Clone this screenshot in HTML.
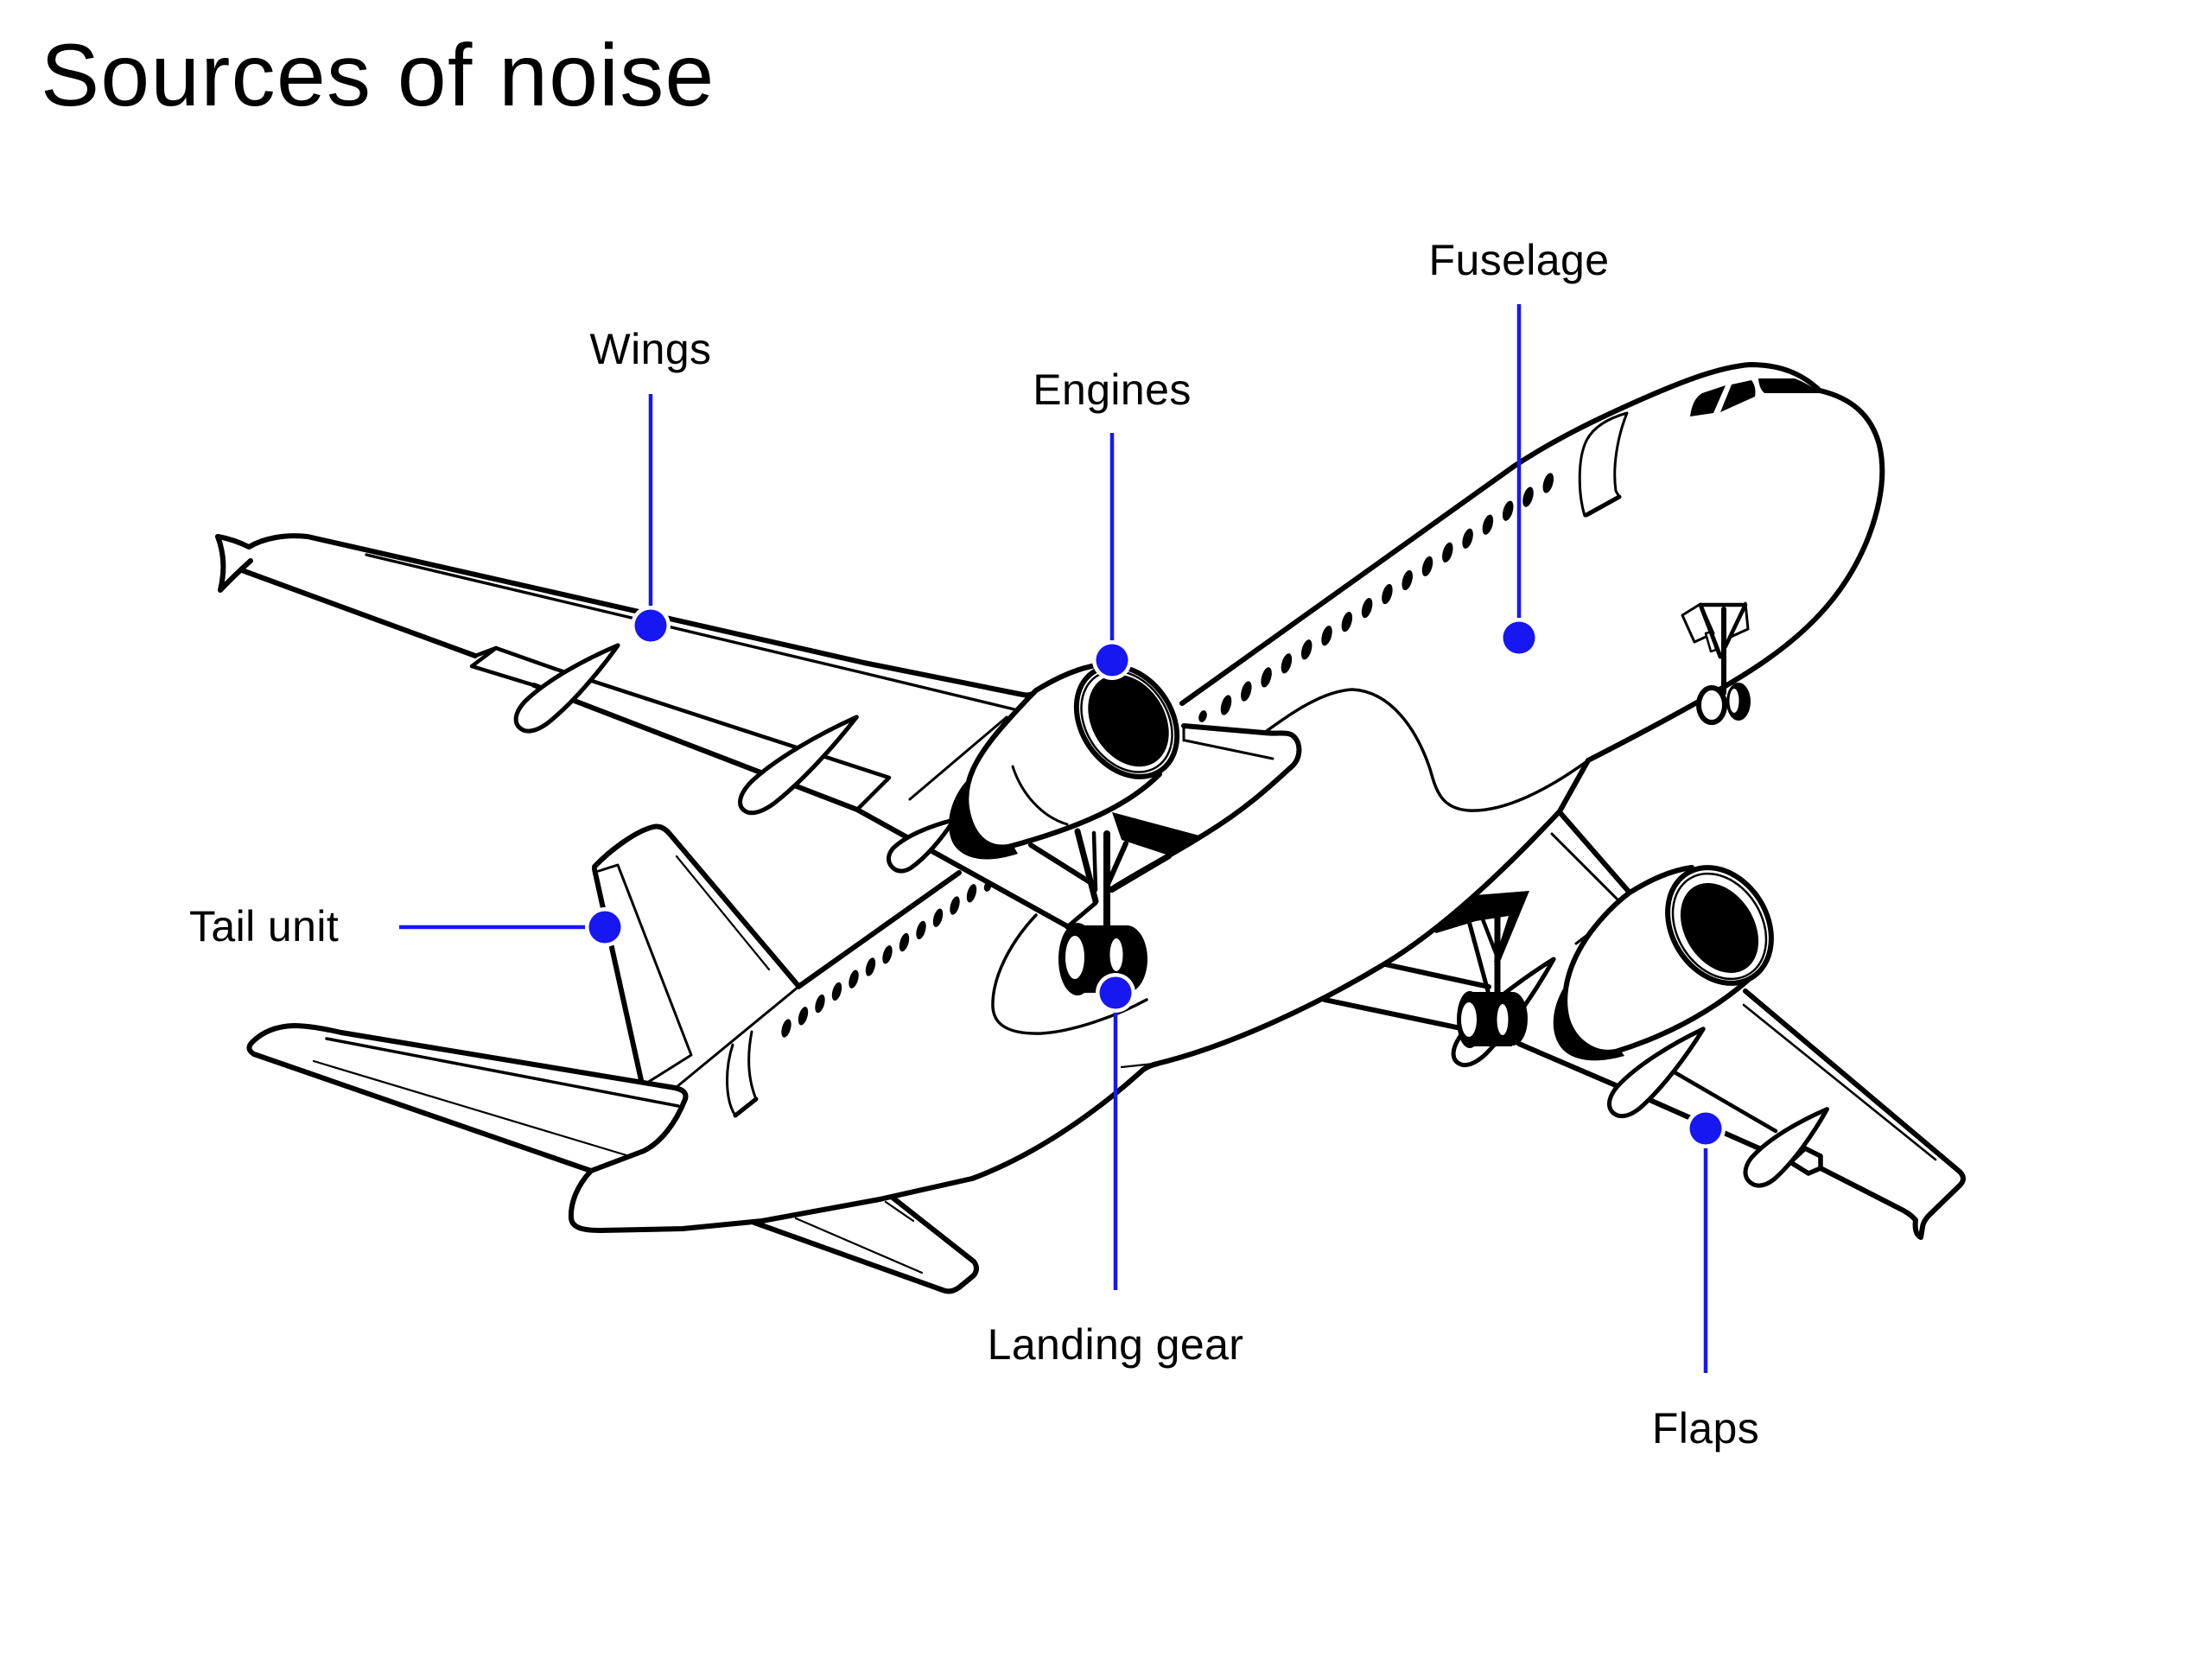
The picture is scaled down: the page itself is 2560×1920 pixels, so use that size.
<!DOCTYPE html>
<html>
<head>
<meta charset="utf-8">
<style>
html,body{margin:0;padding:0;background:#fff;}
svg{display:block;}
.k{fill:none;stroke:#000;stroke-width:6;stroke-linecap:round;stroke-linejoin:round;}
.m{fill:none;stroke:#000;stroke-width:4.5;stroke-linecap:round;stroke-linejoin:round;}
.t{fill:none;stroke:#000;stroke-width:3;stroke-linecap:round;stroke-linejoin:round;}
.h{fill:none;stroke:#000;stroke-width:2.2;stroke-linecap:round;stroke-linejoin:round;}
.w{fill:#fff;stroke:#000;stroke-width:5.5;stroke-linejoin:round;}
.wt{fill:#fff;stroke:#000;stroke-width:3;stroke-linejoin:round;}
.cn{fill:#fff;stroke:#000;stroke-width:5;stroke-linejoin:round;vector-effect:non-scaling-stroke;}
.b{fill:#000;stroke:none;}
.bl{fill:none;stroke:#1717f2;stroke-width:4.5;}
.lbl{font-family:"Liberation Sans",Arial,sans-serif;font-size:50px;fill:#000;letter-spacing:0.4px;}
</style>
</head>
<body>
<svg width="2560" height="1920" viewBox="0 0 2560 1920" xmlns="http://www.w3.org/2000/svg">
<rect x="0" y="0" width="2560" height="1920" fill="#fff"/>

<!-- Title -->
<text x="47" y="122" font-family="Liberation Sans, Arial, sans-serif" font-size="102" letter-spacing="1.3" fill="#000">Sources of noise</text>

<!-- ============ LEFT (far) WING ============ -->
<path class="k" d="M 252 621 Q 270 624 288 633 C 305 623 330 618 356 621 L 1000 767 L 1184 804 Q 1194 806 1200 799"/>
<path class="k" d="M 252 621 Q 263 650 255 683 Q 270 667 290 649"/>
<path class="k" d="M 280 660 L 550 759"/>
<path class="m" d="M 550 759 L 574 750 L 642 774"/>
<path class="m" d="M 574 750 L 546 771 L 618 793"/>
<path class="m" d="M 642 774 L 1029 900 L 992 937"/>
<path class="k" d="M 618 793 L 992 937 L 1237 1073"/>
<path class="t" d="M 424 642 L 1000 779 L 1174 821" style="stroke-width:3.4"/>
<path class="t" d="M 1053 925 L 1165 830"/>
<!-- canoes left wing -->
<path class="cn" d="M 2 6 C -4 -6 4 -16 24 -19 C 60 -22 110 -12 150 0 C 112 10 64 18 28 17 C 14 16 6 12 2 6 Z" transform="translate(601 842) rotate(-39.8) scale(0.99 1)"/>
<path class="cn" d="M 2 6 C -4 -6 4 -16 24 -19 C 60 -22 110 -12 150 0 C 112 10 64 18 28 17 C 14 16 6 12 2 6 Z" transform="translate(860 937) rotate(-39.2) scale(1.13 1)"/>
<path class="cn" d="M 2 6 C -4 -6 4 -16 24 -19 C 60 -22 110 -12 150 0 C 112 10 64 18 28 17 C 14 16 6 12 2 6 Z" transform="translate(1032 1003) rotate(-36.9) scale(0.6 0.85)"/>

<!-- ============ LOWER STABILIZER (behind) ============ -->
<path class="k" d="M 873 1415 L 1091 1493 Q 1100 1497 1110 1490 L 1127 1476 Q 1133 1468 1127 1460 L 1033 1386"/>
<path class="h" d="M 921 1410 L 1067 1473"/>
<path class="h" d="M 1025 1391 L 1057 1413"/>

<!-- ============ VERTICAL FIN ============ -->
<path class="k" d="M 688 1003 C 705 985 735 962 756 957 C 764 955 770 959 775 965 L 924 1141"/>
<path class="k" d="M 688 1006 L 742 1250"/>
<path class="t" d="M 693 1008 L 715 1001 L 800 1221 L 749 1253"/>
<path class="h" d="M 783 991 L 890 1122"/>

<!-- ============ HORIZONTAL STABILIZER ============ -->
<path class="k" d="M 294 1220 Q 284 1214 292 1206 Q 310 1188 340 1187 Q 360 1187 395 1195 L 781 1259 Q 796 1262 793 1272"/>
<path class="m" d="M 378 1202 L 785 1280" style="stroke-width:3.5"/>
<path class="k" d="M 294 1220 L 684 1355"/>
<path class="h" d="M 363 1228 L 725 1337"/>

<!-- ============ FUSELAGE ============ -->
<path class="k" d="M 793 1272 C 782 1300 765 1322 745 1332 L 684 1355 C 668 1372 660 1392 661 1410 C 662 1420 672 1424 695 1424 L 790 1422 L 882 1413 L 1018 1388 L 1125 1364 C 1190 1340 1260 1295 1323 1238 Q 1330 1233 1340 1231"/>
<path class="h" d="M 1298 1235 L 1345 1230"/>
<path class="k" d="M 1335 1232 C 1420 1212 1520 1165 1600 1117 C 1670 1075 1740 1008 1805 939 L 1838 880"/>
<path class="k" d="M 1838 880 C 1920 838 2000 795 2044 764 C 2100 725 2140 680 2163 620 C 2178 580 2182 545 2175 515 C 2165 478 2140 460 2106 452 C 2085 432 2060 422 2025 422 C 1990 425 1950 440 1900 462 C 1850 484 1800 508 1753 539 L 1368 814"/>
<path class="t" d="M 783 1258 L 924 1142"/>
<path class="k" d="M 924 1142 L 1110 1010"/>
<!-- cockpit windows -->
<path class="b" d="M 1956 482 C 1958 468 1962 460 1970 455 L 1997 446 L 1983 478 Z"/>
<path class="b" d="M 1991 477 L 2004 445 L 2027 440 Q 2033 448 2031 459 Z"/>
<path class="b" d="M 2035 438 L 2077 438 Q 2095 445 2106 455 L 2042 455 Q 2036 450 2035 438 Z"/>
<!-- front door -->
<path class="t" d="M 1834 597 C 1826 570 1826 530 1836 510 C 1845 492 1865 483 1883 478 C 1872 505 1866 540 1870 568 L 1874 575"/>
<path class="k" d="M 1874 575 L 1836 596" style="stroke-width:5"/>
<!-- aft door -->
<path class="t" d="M 848 1209 C 838 1240 840 1275 851 1291"/>
<path class="k" d="M 851 1291 L 875 1272" style="stroke-width:5"/>
<path class="t" d="M 875 1272 C 866 1250 864 1225 870 1194"/>
<!-- wing root fairing curve -->
<path class="t" d="M 1463 848 C 1495 825 1530 800 1565 798 C 1610 800 1640 845 1655 890 C 1662 915 1668 936 1700 938 C 1740 940 1790 915 1838 880" style="stroke-width:3.5"/>

<!-- forward windows -->
<g class="b">
<ellipse cx="1392" cy="829" rx="4.5" ry="7" transform="rotate(18 1392 829)"/>
<ellipse cx="1419" cy="816" rx="5.5" ry="12" transform="rotate(16 1419 816)"/>
<ellipse cx="1442.3" cy="800" rx="5.5" ry="12" transform="rotate(16 1442.3 800)"/>
<ellipse cx="1465.6" cy="783.9" rx="5.5" ry="12" transform="rotate(16 1465.6 783.9)"/>
<ellipse cx="1488.9" cy="767.8" rx="5.5" ry="12" transform="rotate(16 1488.9 767.8)"/>
<ellipse cx="1512.2" cy="751.8" rx="5.5" ry="12" transform="rotate(16 1512.2 751.8)"/>
<ellipse cx="1535.5" cy="735.7" rx="5.5" ry="12" transform="rotate(16 1535.5 735.7)"/>
<ellipse cx="1558.8" cy="719.6" rx="5.5" ry="12" transform="rotate(16 1558.8 719.6)"/>
<ellipse cx="1582.1" cy="703.6" rx="5.5" ry="12" transform="rotate(16 1582.1 703.6)"/>
<ellipse cx="1605.4" cy="687.5" rx="5.5" ry="12" transform="rotate(16 1605.4 687.5)"/>
<ellipse cx="1628.7" cy="671.5" rx="5.5" ry="12" transform="rotate(16 1628.7 671.5)"/>
<ellipse cx="1652" cy="655.4" rx="5.5" ry="12" transform="rotate(16 1652 655.4)"/>
<ellipse cx="1675.3" cy="639.3" rx="5.5" ry="12" transform="rotate(16 1675.3 639.3)"/>
<ellipse cx="1698.6" cy="623.3" rx="5.5" ry="12" transform="rotate(16 1698.6 623.3)"/>
<ellipse cx="1721.9" cy="607.2" rx="5.5" ry="12" transform="rotate(16 1721.9 607.2)"/>
<ellipse cx="1745.2" cy="591.2" rx="5.5" ry="12" transform="rotate(16 1745.2 591.2)"/>
<ellipse cx="1768.5" cy="575.1" rx="5.5" ry="12" transform="rotate(16 1768.5 575.1)"/>
<ellipse cx="1791.8" cy="559" rx="5.5" ry="12" transform="rotate(16 1791.8 559)"/>
</g>
<!-- aft windows -->
<g class="b">
<ellipse cx="910" cy="1190" rx="5" ry="11" transform="rotate(16 910 1190)"/>
<ellipse cx="929.5" cy="1175.8" rx="5" ry="11" transform="rotate(16 929.5 1175.8)"/>
<ellipse cx="949" cy="1161.6" rx="5" ry="11" transform="rotate(16 949 1161.6)"/>
<ellipse cx="968.5" cy="1147.4" rx="5" ry="11" transform="rotate(16 968.5 1147.4)"/>
<ellipse cx="988" cy="1133.2" rx="5" ry="11" transform="rotate(16 988 1133.2)"/>
<ellipse cx="1007.5" cy="1119" rx="5" ry="11" transform="rotate(16 1007.5 1119)"/>
<ellipse cx="1027" cy="1104.8" rx="5" ry="11" transform="rotate(16 1027 1104.8)"/>
<ellipse cx="1046.5" cy="1090.6" rx="5" ry="11" transform="rotate(16 1046.5 1090.6)"/>
<ellipse cx="1066" cy="1076.4" rx="5" ry="11" transform="rotate(16 1066 1076.4)"/>
<ellipse cx="1085.5" cy="1062.2" rx="5" ry="11" transform="rotate(16 1085.5 1062.2)"/>
<ellipse cx="1105" cy="1048" rx="5" ry="11" transform="rotate(16 1105 1048)"/>
<ellipse cx="1124.5" cy="1033.8" rx="5" ry="11" transform="rotate(16 1124.5 1033.8)"/>
<ellipse cx="1143" cy="1026" rx="4" ry="6" transform="rotate(16 1143 1026)"/>
</g>

<!-- ============ RIGHT (near) WING ============ -->
<path class="k" d="M 1805 940 L 1886 1033"/>
<path class="t" d="M 1796 965 L 1876 1045"/>
<path class="k" d="M 2020 1147 L 2268 1356 Q 2276 1364 2268 1372 L 2236 1403 Q 2226 1412 2225 1420 L 2223 1432 Q 2215 1428 2217 1412 Q 2212 1406 2203 1401 L 2107 1352"/>
<path class="h" d="M 2018 1163 L 2240 1342" style="stroke-width:2.6"/>
<path class="k" d="M 2072 1345 L 1907 1272 L 1758 1208"/>
<polygon class="w" points="2072,1345 2089,1329 2107,1338 2107,1352 2093,1358"/>
<path class="m" d="M 1938 1241 L 2055 1309"/>
<path class="k" d="M 1533 1157 L 1700 1192"/>
<path class="k" d="M 1603 1116 L 1723 1142"/>
<path class="cn" d="M 2 6 C -4 -6 4 -16 24 -19 C 60 -22 110 -12 150 0 C 112 10 64 18 28 17 C 14 16 6 12 2 6 Z" transform="translate(1867 1288) rotate(-43) scale(0.95 1)"/>
<path class="cn" d="M 2 6 C -4 -6 4 -16 24 -19 C 60 -22 110 -12 150 0 C 112 10 64 18 28 17 C 14 16 6 12 2 6 Z" transform="translate(2025 1368) rotate(-43.3) scale(0.82 1)"/>
<path class="cn" d="M 2 6 C -4 -6 4 -16 24 -19 C 60 -22 110 -12 150 0 C 112 10 64 18 28 17 C 14 16 6 12 2 6 Z" transform="translate(1687 1230) rotate(-47.2) scale(1.09 1)"/>

<!-- ============ WING ROOT / PYLON near engine 1 ============ -->
<path class="k" d="M 1370 840 L 1463 848 C 1480 850 1490 846 1497 852 C 1506 860 1506 878 1494 888 C 1470 910 1440 938 1390 968 C 1350 993 1310 1013 1280 1033"/>
<path class="t" d="M 1372 857 L 1473 878"/>
<path class="t" d="M 1370 840 L 1370 857"/>
<polygon class="b" points="1287,940 1388,967 1356,991 1298,972"/>

<!-- ============ ENGINE 1 ============ -->
<path class="b" d="M 1122 900 C 1100 922 1092 955 1103 976 C 1114 995 1142 1000 1178 988 L 1150 940 Z"/>
<path class="w" d="M 1199 799 C 1225 783 1250 772 1275 769 L 1342 896 C 1310 928 1260 955 1167 980 C 1140 984 1124 965 1119 935 C 1115 905 1128 878 1160 841 C 1175 824 1188 810 1199 799 Z" style="stroke-width:6"/>
<path class="t" d="M 1172 887 C 1182 918 1205 945 1235 954"/>
<ellipse cx="1304" cy="835" rx="69" ry="52" transform="rotate(55 1304 835)" class="w" style="stroke-width:6"/>
<ellipse cx="1304" cy="835" rx="63" ry="47" transform="rotate(56 1304 835)" fill="none" stroke="#000" stroke-width="2.5"/>
<ellipse cx="1306" cy="834" rx="57" ry="42" transform="rotate(58 1306 834)" class="b"/>

<!-- ============ GEAR 1 ============ -->
<path class="k" d="M 1193 978 L 1263 1022"/>
<path class="k" d="M 1287 1030 L 1353 991"/>
<path class="k" d="M 1247 962 L 1268 1043" style="stroke-width:7"/>
<path class="m" d="M 1266 964 L 1268 1030"/>
<path class="k" d="M 1281 965 L 1281 1075" style="stroke-width:8"/>
<path class="k" d="M 1303 976 L 1280 1028"/>
<path class="k" d="M 1235 1073 L 1268 1045" style="stroke-width:5"/>
<path class="t" d="M 1199 1059 C 1170 1090 1148 1130 1149 1165 C 1150 1188 1170 1197 1205 1196 C 1240 1194 1290 1177 1327 1157" style="stroke-width:3.5"/>
<g class="b">
<ellipse cx="1247" cy="1110" rx="22" ry="42"/>
<rect x="1247" y="1071" width="57" height="78"/>
<ellipse cx="1304" cy="1110" rx="24" ry="39"/>
</g>
<ellipse cx="1244" cy="1108" rx="11" ry="25" fill="#fff"/>
<ellipse cx="1292" cy="1105" rx="7.5" ry="19" fill="#fff"/>

<!-- ============ GEAR 2 ============ -->
<polygon class="b" points="1657,1075 1707,1036 1770,1031 1736,1113 1729,1113 1746,1060 1708,1066 1662,1080"/>
<path class="k" d="M 1700 1066 L 1722 1147" style="stroke-width:5"/>
<path class="k" d="M 1733 1060 L 1733 1150" style="stroke-width:7"/>
<path class="m" d="M 1716 1064 L 1733 1108"/>
<g class="b">
<ellipse cx="1701" cy="1180" rx="15" ry="33"/>
<rect x="1701" y="1148" width="49" height="63"/>
<ellipse cx="1751" cy="1179" rx="17" ry="31"/>
</g>
<ellipse cx="1700" cy="1180" rx="9" ry="20" fill="#fff"/>
<ellipse cx="1739" cy="1180" rx="6.5" ry="18" fill="#fff"/>

<!-- ============ ENGINE 2 ============ -->
<path class="t" d="M 1824 1092 L 1888 1043"/>
<path class="b" d="M 1815 1135 C 1797 1160 1792 1190 1805 1210 C 1817 1228 1845 1232 1880 1222 L 1850 1180 Z"/>
<path class="w" d="M 1886 1033 C 1910 1018 1935 1007 1958 1004 L 2030 1128 C 1990 1165 1935 1197 1870 1217 C 1845 1222 1822 1205 1814 1180 C 1806 1150 1815 1115 1840 1080 C 1855 1060 1870 1045 1886 1033 Z" style="stroke-width:6"/>
<ellipse cx="1990" cy="1071" rx="71" ry="55" transform="rotate(58 1990 1071)" class="w" style="stroke-width:6"/>
<ellipse cx="1990" cy="1072" rx="65" ry="49" transform="rotate(58 1990 1072)" fill="none" stroke="#000" stroke-width="2.5"/>
<ellipse cx="1990" cy="1074" rx="56" ry="40" transform="rotate(58 1990 1074)" class="b"/>

<!-- ============ NOSE GEAR ============ -->
<polygon class="wt" points="1947,712 1968,699 1983,733 1961,743"/>
<polygon class="wt" points="2020,698 2023,728 2001,738"/>
<polygon class="wt" points="1974,733 1981,731 1986,752 1980,754" style="stroke-width:2.5"/>
<path class="m" d="M 1968 700 L 2020 700"/>
<path class="k" d="M 1968 700 L 1991 760" style="stroke-width:5"/>
<path class="m" d="M 2020 700 L 1997 748"/>
<path class="k" d="M 1995 705 L 1995 802"/>
<ellipse cx="2012" cy="812" rx="14" ry="22" class="b"/>
<ellipse cx="2007" cy="811" rx="5.5" ry="14" fill="#fff"/>
<ellipse cx="1981" cy="816" rx="15" ry="20" fill="#fff" stroke="#000" stroke-width="6"/>

<!-- ============ CALLOUTS ============ -->
<line class="bl" x1="753" y1="456" x2="753" y2="724"/>
<line class="bl" x1="1287" y1="501" x2="1287" y2="764"/>
<line class="bl" x1="1758" y1="352" x2="1758" y2="738"/>
<line class="bl" x1="462" y1="1073" x2="700" y2="1073"/>
<line class="bl" x1="1291" y1="1149" x2="1291" y2="1493"/>
<line class="bl" x1="1974" y1="1306" x2="1974" y2="1589"/>
<g fill="#fff">
<circle cx="753" cy="724" r="23"/>
<circle cx="1287" cy="764" r="23"/>
<circle cx="1758" cy="738" r="23"/>
<circle cx="700" cy="1073" r="23"/>
<circle cx="1291" cy="1149" r="23"/>
<circle cx="1974" cy="1306" r="23"/>
</g>
<g fill="#1717f2">
<circle cx="753" cy="724" r="18.5"/>
<circle cx="1287" cy="764" r="18.5"/>
<circle cx="1758" cy="738" r="18.5"/>
<circle cx="700" cy="1073" r="18.5"/>
<circle cx="1291" cy="1149" r="18.5"/>
<circle cx="1974" cy="1306" r="18.5"/>
</g>

<text class="lbl" x="753" y="421" text-anchor="middle">Wings</text>
<text class="lbl" x="1287" y="468" text-anchor="middle">Engines</text>
<text class="lbl" x="1758" y="318" text-anchor="middle">Fuselage</text>
<text class="lbl" x="219" y="1089">Tail unit</text>
<text class="lbl" x="1291" y="1573" text-anchor="middle" letter-spacing="1.2">Landing gear</text>
<text class="lbl" x="1974" y="1670" text-anchor="middle">Flaps</text>
</svg>
</body>
</html>
